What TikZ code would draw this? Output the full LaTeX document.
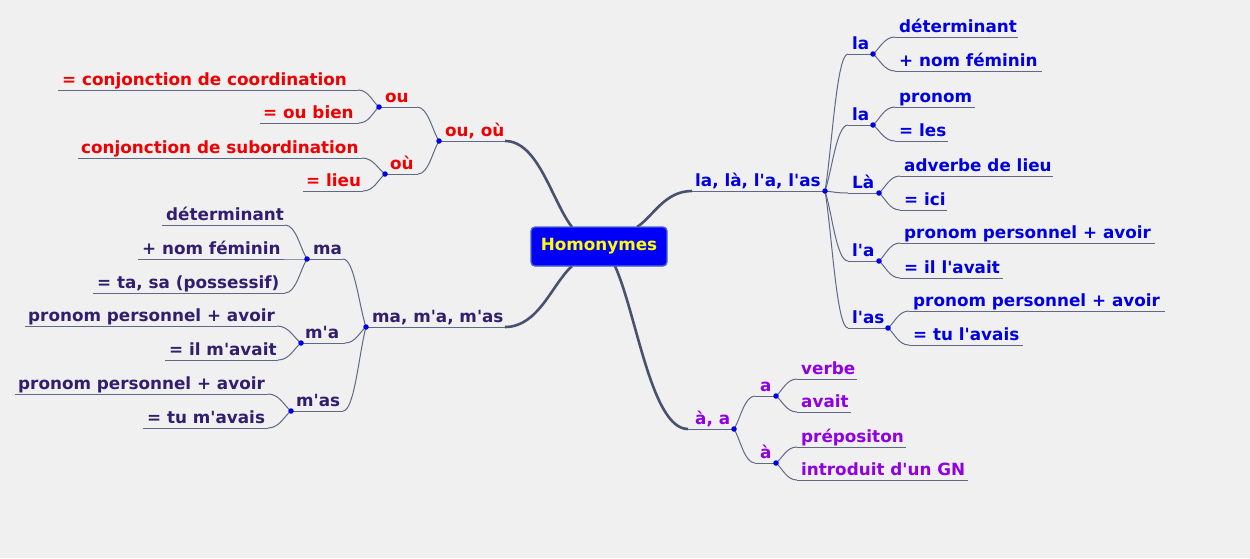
\documentclass[tikz,border=0pt]{standalone}
\usepackage{fontspec}
\setmainfont{DejaVu Sans}
\usetikzlibrary{calc}
\definecolor{bgc}{RGB}{240,240,240}
\definecolor{linec}{RGB}{95,105,135}
\definecolor{thickc}{RGB}{72,82,112}
\definecolor{dotc}{RGB}{0,0,230}
\definecolor{redc}{RGB}{240,0,0}
\definecolor{bluec}{RGB}{0,0,225}
\definecolor{navyc}{RGB}{50,30,110}
\definecolor{violc}{RGB}{145,0,225}
\definecolor{rootfill}{RGB}{0,0,250}
\definecolor{rootdraw}{RGB}{70,100,210}
\definecolor{roottext}{RGB}{255,255,0}
\newcommand\q{\textquotesingle}
\newcommand\lblfont{\fontsize{16.8}{20}\selectfont\bfseries}
\newcommand\lnk[3][]{\draw[#1] (#2) .. controls ($(#2)!0.3!(#3)$) and ($(#3)!0.5!(#2|-#3)$) .. (#3);}
\tikzset{
  dotn/.style={circle, fill=dotc, inner sep=0pt, minimum size=5.5pt},
  thinl/.style={draw=linec, line width=1pt},
  thickl/.style={draw=thickc, line width=2.6pt},
  lbl/.style={font=\lblfont, inner sep=0pt, anchor=base west},
  rootn/.style={draw=rootdraw, line width=1.3pt, fill=rootfill, rounded corners=4pt,
    minimum width=136pt, minimum height=39pt, inner sep=0pt, text=roottext, font=\lblfont},
}
\begin{document}
\begin{tikzpicture}[x=1pt,y=-1pt]
\fill[bgc] (0,0) rectangle (1250,558);
\useasboundingbox (0,0) rectangle (1250,558);

% ---------- coordinates ----------
\coordinate (r1) at (637,227);
\coordinate (r2) at (572,227);
\coordinate (r3) at (572,266);
\coordinate (r4) at (615,266);

% right branch
\coordinate (L0s) at (692,191); \coordinate (L0d) at (825,191);
\coordinate (L1s) at (848,54);  \coordinate (L1d) at (873,54);
\coordinate (L1as) at (895,37);  \coordinate (L1ae) at (1018,37);
\coordinate (L1bs) at (895,71);  \coordinate (L1be) at (1042,71);
\coordinate (L2s) at (848,125); \coordinate (L2d) at (873,125);
\coordinate (L2as) at (895,107); \coordinate (L2ae) at (975,107);
\coordinate (L2bs) at (895,141); \coordinate (L2be) at (948,141);
\coordinate (L3s) at (848,193); \coordinate (L3d) at (879,193);
\coordinate (L3as) at (900,176); \coordinate (L3ae) at (1053,176);
\coordinate (L3bs) at (900,210); \coordinate (L3be) at (947,210);
\coordinate (L4s) at (848,261); \coordinate (L4d) at (879,261);
\coordinate (L4as) at (900,243); \coordinate (L4ae) at (1155,243);
\coordinate (L4bs) at (900,278); \coordinate (L4be) at (1003,278);
\coordinate (L5s) at (848,328); \coordinate (L5d) at (888,328);
\coordinate (L5as) at (909,311); \coordinate (L5ae) at (1165,311);
\coordinate (L5bs) at (909,345); \coordinate (L5be) at (1023,345);

% left top branch
\coordinate (O0s) at (505,141); \coordinate (O0d) at (439,141);
\coordinate (O1s) at (417,107); \coordinate (O1d) at (379,107);
\coordinate (O1as) at (358,90);  \coordinate (O1ae) at (58,90);
\coordinate (O1bs) at (359,123); \coordinate (O1be) at (260,123);
\coordinate (O2s) at (418,174); \coordinate (O2d) at (385,174);
\coordinate (O2as) at (362,158); \coordinate (O2ae) at (78,158);
\coordinate (O2bs) at (363,191); \coordinate (O2be) at (303,191);

% left middle branch
\coordinate (M0s) at (505,327); \coordinate (M0d) at (366,327);
\coordinate (M1s) at (343,259); \coordinate (M1d) at (307,259);
\coordinate (M1as) at (285,225); \coordinate (M1ae) at (162,225);
\coordinate (M1bs) at (282,259); \coordinate (M1be) at (138,259);
\coordinate (M1cs) at (285,293); \coordinate (M1ce) at (93,293);
\coordinate (M2s) at (345,343); \coordinate (M2d) at (301,343);
\coordinate (M2as) at (277,326); \coordinate (M2ae) at (25,326);
\coordinate (M2bs) at (278,360); \coordinate (M2be) at (165,360);
\coordinate (M3s) at (343,411); \coordinate (M3d) at (291,411);
\coordinate (M3as) at (268,394); \coordinate (M3ae) at (15,394);
\coordinate (M3bs) at (268,428); \coordinate (M3be) at (143,428);

% bottom branch
\coordinate (A0s) at (688,429); \coordinate (A0d) at (734,429);
\coordinate (A1s) at (755,396); \coordinate (A1d) at (776,396);
\coordinate (A1as) at (797,379); \coordinate (A1ae) at (857,379);
\coordinate (A1bs) at (797,412); \coordinate (A1be) at (851,412);
\coordinate (A2s) at (755,463); \coordinate (A2d) at (776,463);
\coordinate (A2as) at (797,447); \coordinate (A2ae) at (906,447);
\coordinate (A2bs) at (797,480); \coordinate (A2be) at (968,480);

% ---------- thick main connectors ----------
\lnk[thickl]{r1}{L0s}
\lnk[thickl]{r2}{O0s}
\lnk[thickl]{r3}{M0s}
\lnk[thickl]{r4}{A0s}

% ---------- thin connectors ----------
\draw[thinl] (L0s) -- (L0d);
\foreach \i in {1,...,5}{
  \lnk[thinl]{L0d}{L\i s}
  \draw[thinl] (L\i s) -- (L\i d);
  \lnk[thinl]{L\i d}{L\i as}
  \lnk[thinl]{L\i d}{L\i bs}
  \draw[thinl] (L\i as) -- (L\i ae);
  \draw[thinl] (L\i bs) -- (L\i be);
}
\draw[thinl] (O0s) -- (O0d);
\foreach \i in {1,2}{
  \lnk[thinl]{O0d}{O\i s}
  \draw[thinl] (O\i s) -- (O\i d);
  \lnk[thinl]{O\i d}{O\i as}
  \lnk[thinl]{O\i d}{O\i bs}
  \draw[thinl] (O\i as) -- (O\i ae);
  \draw[thinl] (O\i bs) -- (O\i be);
}
\draw[thinl] (M0s) -- (M0d);
\foreach \i in {1,2,3}{
  \lnk[thinl]{M0d}{M\i s}
  \draw[thinl] (M\i s) -- (M\i d);
  \lnk[thinl]{M\i d}{M\i as}
  \lnk[thinl]{M\i d}{M\i bs}
  \draw[thinl] (M\i as) -- (M\i ae);
  \draw[thinl] (M\i bs) -- (M\i be);
}
\lnk[thinl]{M1d}{M1cs}
\draw[thinl] (M1cs) -- (M1ce);
\draw[thinl] (A0s) -- (A0d);
\foreach \i in {1,2}{
  \lnk[thinl]{A0d}{A\i s}
  \draw[thinl] (A\i s) -- (A\i d);
  \lnk[thinl]{A\i d}{A\i as}
  \lnk[thinl]{A\i d}{A\i bs}
  \draw[thinl] (A\i as) -- (A\i ae);
  \draw[thinl] (A\i bs) -- (A\i be);
}

% ---------- dots ----------
\foreach \n in {L0d,L1d,L2d,L3d,L4d,L5d,O0d,O1d,O2d,M0d,M1d,M2d,M3d,A0d,A1d,A2d}
  \node[dotn] at (\n) {};

% ---------- root ----------
\node[rootn] (root) at (599,246.5) {Homonymes};

% ---------- labels ----------
\begin{scope}[every node/.append style={text=bluec}]
\node[lbl] (tL0) at (695,186) {la, là, l\q a, l\q as};
\node[lbl] (tL1) at (852,49) {la};
\node[lbl] (tL1a) at (899,32) {déterminant};
\node[lbl] (tL1b) at (899,66) {+ nom féminin};
\node[lbl] (tL2) at (852,120) {la};
\node[lbl] (tL2a) at (899,102) {pronom};
\node[lbl] (tL2b) at (899,136) {= les};
\node[lbl] (tL3) at (852,188) {Là};
\node[lbl] (tL3a) at (904,171) {adverbe de lieu};
\node[lbl] (tL3b) at (904,205) {= ici};
\node[lbl] (tL4) at (852,256) {l\q a};
\node[lbl] (tL4a) at (904,238) {pronom personnel + avoir};
\node[lbl] (tL4b) at (904,273) {= il l\q avait};
\node[lbl] (tL5) at (852,323) {l\q as};
\node[lbl] (tL5a) at (913,306) {pronom personnel + avoir};
\node[lbl] (tL5b) at (913,340) {= tu l\q avais};
\end{scope}
\begin{scope}[every node/.append style={text=redc}]
\node[lbl] (tO0) at (445,136) {ou, où};
\node[lbl] (tO1) at (385,102) {ou};
\node[lbl] (tO1a) at (62,85) {= conjonction de coordination};
\node[lbl] (tO1b) at (263,118) {= ou bien};
\node[lbl] (tO2) at (390,169) {où};
\node[lbl] (tO2a) at (81,153) {conjonction de subordination};
\node[lbl] (tO2b) at (306,186) {= lieu};
\end{scope}
\begin{scope}[every node/.append style={text=navyc}]
\node[lbl] (tM0) at (372,322) {ma, m\q a, m\q as};
\node[lbl] (tM1) at (313,254) {ma};
\node[lbl] (tM1a) at (166,220) {déterminant};
\node[lbl] (tM1b) at (142,254) {+ nom féminin};
\node[lbl] (tM1c) at (97,288) {= ta, sa (possessif)};
\node[lbl] (tM2) at (305,338) {m\q a};
\node[lbl] (tM2a) at (28,321) {pronom personnel + avoir};
\node[lbl] (tM2b) at (169,355) {= il m\q avait};
\node[lbl] (tM3) at (296,406) {m\q as};
\node[lbl] (tM3a) at (18,389) {pronom personnel + avoir};
\node[lbl] (tM3b) at (147,423) {= tu m\q avais};
\end{scope}
\begin{scope}[every node/.append style={text=violc}]
\node[lbl] (tA0) at (695,424) {à, a};
\node[lbl] (tA1) at (760,391) {a};
\node[lbl] (tA1a) at (801,374) {verbe};
\node[lbl] (tA1b) at (801,407) {avait};
\node[lbl] (tA2) at (760,458) {à};
\node[lbl] (tA2a) at (801,442) {prépositon};
\node[lbl] (tA2b) at (801,475) {introduit d\q un GN};
\end{scope}
\end{tikzpicture}
\end{document}
